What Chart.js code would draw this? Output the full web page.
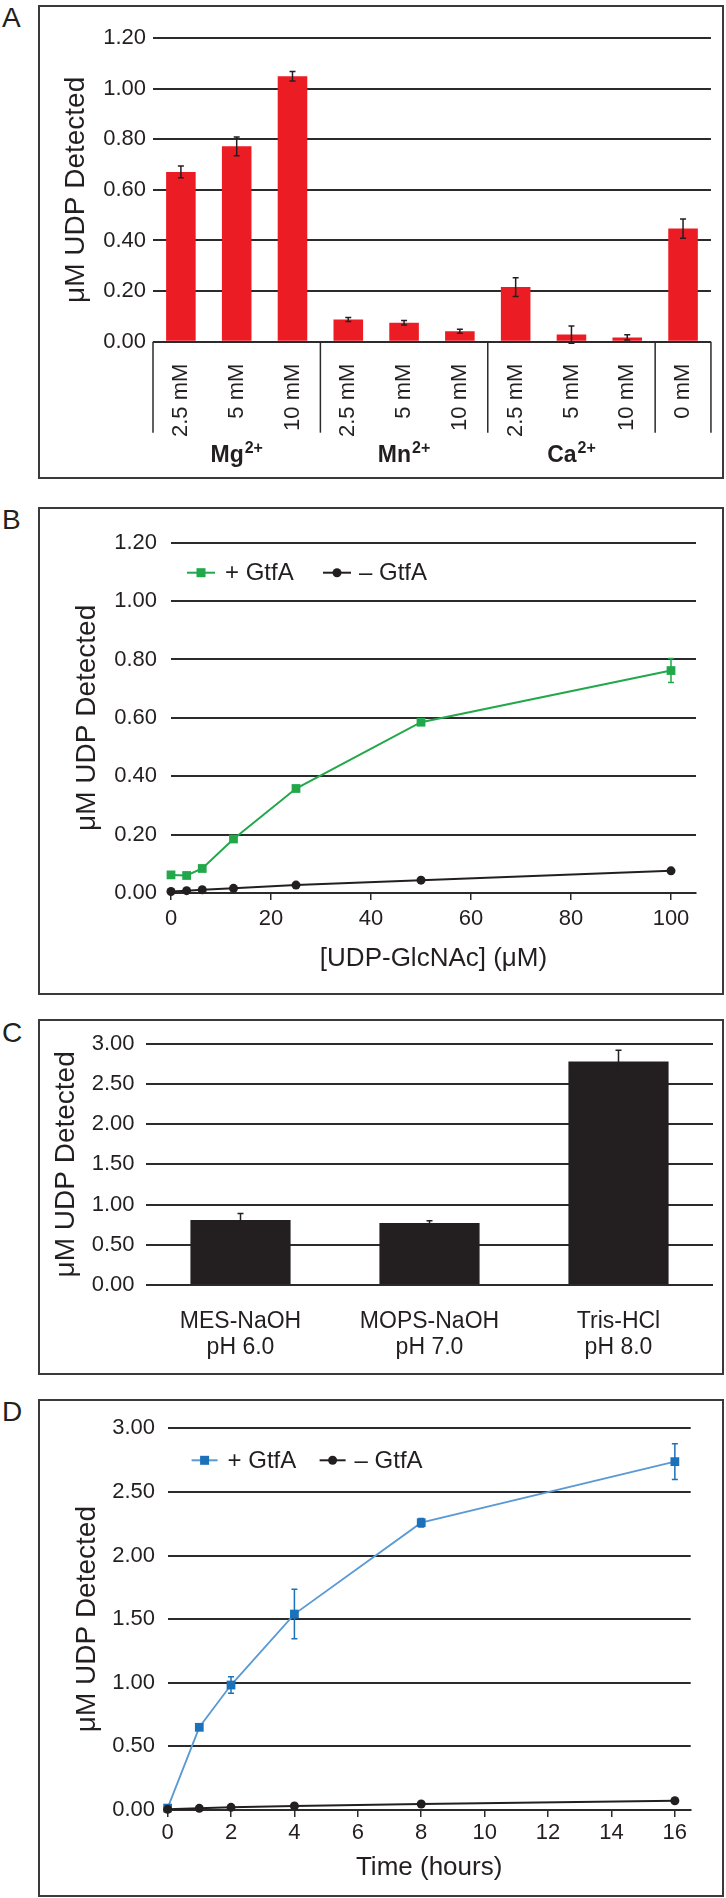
<!DOCTYPE html>
<html><head><meta charset="utf-8">
<script src="https://cdn.jsdelivr.net/npm/chart.js@4.4.1/dist/chart.umd.min.js"></script>
<style>
html,body{margin:0;padding:0;background:#fff;}
body{width:726px;height:1898px;position:relative;overflow:hidden;font-family:'Liberation Sans',Arial,Helvetica,sans-serif;}
.box{position:absolute;left:38px;width:686px;border:2px solid #3a3a3a;box-sizing:border-box;pointer-events:none;}
.letter{position:absolute;left:2px;font-size:28px;line-height:1;color:#231f20;}
canvas{position:absolute;left:38px;}
</style></head><body>
<div class="letter" style="top:4px">A</div>
<div class="letter" style="top:506px">B</div>
<div class="letter" style="top:1019px">C</div>
<div class="letter" style="top:1398px">D</div>
<canvas id="cA" width="686" height="474" style="top:5px"></canvas>
<canvas id="cB" width="686" height="488" style="top:507px"></canvas>
<canvas id="cC" width="686" height="356" style="top:1019px"></canvas>
<canvas id="cD" width="686" height="498" style="top:1399px"></canvas>
<div class="box" style="top:5px;height:474px"></div>
<div class="box" style="top:507px;height:488px"></div>
<div class="box" style="top:1019px;height:356px"></div>
<div class="box" style="top:1399px;height:498px"></div>
<script>
// ---------- DATA ----------
// Panel A
const aCategories = ['2.5 mM','5 mM','10 mM','2.5 mM','5 mM','10 mM','2.5 mM','5 mM','10 mM','0 mM'];
const aGroupNames = ['Mg','Mn','Ca'];
const aGroupCharge = '2+';
const aGroupSizes = [3,3,3,1];
const aValues = [0.671,0.772,1.049,0.088,0.075,0.041,0.216,0.028,0.017,0.447];
const aErrors = [0.023,0.037,0.019,0.008,0.009,0.008,0.037,0.034,0.010,0.038];
const aYTicks = [0,0.2,0.4,0.6,0.8,1.0,1.2];
// Panel B
const bConc = [0,3.125,6.25,12.5,25,50,100];
const bPlus = [0.062,0.060,0.084,0.185,0.358,0.585,0.762];
const bPlusErr = [0,0,0,0,0,0,0.041];
const bMinus = [0.005,0.008,0.011,0.016,0.027,0.044,0.076];
const bXTicks = [0,20,40,60,80,100];
const bYTicks = [0,0.2,0.4,0.6,0.8,1.0,1.2];
// Panel C
const cBuffers = [['MES-NaOH','pH 6.0'],['MOPS-NaOH','pH 7.0'],['Tris-HCl','pH 8.0']];
const cValues = [0.808,0.772,2.78];
const cErrors = [0.08,0.028,0.14];
const cYTicks = [0,0.5,1.0,1.5,2.0,2.5,3.0];
// Panel D
const dTime = [0,1,2,4,8,16];
const dPlus = [0.015,0.650,0.982,1.540,2.258,2.738];
const dPlusErr = [0,0,0.065,0.195,0.033,0.14];
const dMinus = [0.005,0.013,0.021,0.031,0.047,0.073];
const dXTicks = [0,2,4,6,8,10,12,14,16];
const dYTicks = [0,0.5,1.0,1.5,2.0,2.5,3.0];
const legendLabels = ['+ GtfA','\u2013 GtfA'];
const yTitle = '\u03bcM UDP Detected';

// ---------- STYLE ----------
const FONT = "'Liberation Sans', Arial, Helvetica, sans-serif";
const INK = '#231f20';
const GRID = '#2b2b2b';
const RED = '#ec1c24';
const GREEN = '#22a84a';
const BLUE_M = '#1b72ba';
const BLUE_L = '#5a9ad4';
Chart.defaults.font.family = FONT;
Chart.defaults.color = INK;
Chart.defaults.animation = false;
Chart.defaults.responsive = false;
Chart.defaults.devicePixelRatio = 1;
Chart.defaults.plugins.legend.display = false;
Chart.defaults.plugins.tooltip.enabled = false;

const errorBars = {
  id: 'errorBars',
  afterDatasetsDraw(chart) {
    const ctx = chart.ctx;
    chart.data.datasets.forEach((ds, di) => {
      if (!ds.errors) return;
      const meta = chart.getDatasetMeta(di);
      const yS = chart.scales[meta.yAxisID];
      ctx.save();
      ctx.strokeStyle = ds.errorColor || INK;
      ctx.lineWidth = ds.errorWidth || 1.5;
      meta.data.forEach((el, i) => {
        const e = ds.errors[i];
        if (!e) return;
        const v = ds.data[i];
        const val = (typeof v === 'object') ? v.y : v;
        const x = el.x;
        const y1 = yS.getPixelForValue(val + e), y2 = yS.getPixelForValue(val - e);
        const cap = ds.errorCap || 3;
        ctx.beginPath();
        ctx.moveTo(x, y1); ctx.lineTo(x, y2);
        ctx.moveTo(x - cap, y1); ctx.lineTo(x + cap, y1);
        ctx.moveTo(x - cap, y2); ctx.lineTo(x + cap, y2);
        ctx.stroke();
      });
      ctx.restore();
    });
  }
};

function makeLegend(items, dy) {
  return {
    id: 'panelLegend',
    afterDraw(chart) {
      const ctx = chart.ctx, ca = chart.chartArea;
      const y = ca.top + dy;
      ctx.save();
      items.forEach(it => {
        const x0 = ca.left + it.x0, x1 = ca.left + it.x1;
        ctx.strokeStyle = it.lineColor; ctx.lineWidth = 2;
        ctx.beginPath(); ctx.moveTo(x0, y); ctx.lineTo(x1, y); ctx.stroke();
        ctx.fillStyle = it.color;
        const cx = (x0 + x1) / 2;
        if (it.style === 'rect') { ctx.fillRect(cx - 4.5, y - 4.5, 9, 9); }
        else { ctx.beginPath(); ctx.arc(cx, y, 4.5, 0, Math.PI * 2); ctx.fill(); }
        ctx.fillStyle = INK;
        ctx.font = '24px ' + FONT;
        ctx.textBaseline = 'middle'; ctx.textAlign = 'left';
        ctx.fillText(it.label, ca.left + it.tx, y + 1);
      });
      ctx.restore();
    }
  };
}

function yAxis(ticks, max, width, tickPad, titlePad) {
  return {
    min: 0, max: max,
    afterBuildTicks: s => { s.ticks = ticks.map(v => ({value: v})); },
    afterFit: s => { s.width = width; },
    grid: {color: GRID, lineWidth: 2, drawTicks: false},
    border: {display: false},
    ticks: {padding: tickPad, font: {size: 22}, color: INK, callback: v => Number(v).toFixed(2)},
    title: {display: true, text: yTitle, font: {size: 28}, color: INK, padding: {top: titlePad, bottom: 0}}
  };
}

// ---------- PANEL A ----------
const groupPlugin = {
  id: 'groups',
  afterDraw(chart) {
    const ctx = chart.ctx, ca = chart.chartArea, x = chart.scales.x;
    const bounds = [ca.left];
    let idx = 0;
    aGroupSizes.forEach(n => {
      idx += n;
      if (idx < aCategories.length) bounds.push((x.getPixelForValue(idx - 1) + x.getPixelForValue(idx)) / 2);
      else bounds.push(ca.right);
    });
    ctx.save();
    ctx.strokeStyle = GRID; ctx.lineWidth = 1.5;
    bounds.forEach(b => {
      ctx.beginPath(); ctx.moveTo(b, ca.bottom); ctx.lineTo(b, ca.bottom + 91); ctx.stroke();
    });
    ctx.fillStyle = INK;
    aGroupNames.forEach((name, g) => {
      const cx = (bounds[g] + bounds[g + 1]) / 2;
      ctx.font = 'bold 23px ' + FONT;
      const w1 = ctx.measureText(name).width;
      ctx.font = 'bold 16px ' + FONT;
      const w2 = ctx.measureText(aGroupCharge).width;
      const sx = cx - (w1 + w2 + 1) / 2;
      const base = ca.bottom + 120;
      ctx.textBaseline = 'alphabetic'; ctx.textAlign = 'left';
      ctx.font = 'bold 23px ' + FONT;
      ctx.fillText(name, sx, base);
      ctx.font = 'bold 16px ' + FONT;
      ctx.fillText(aGroupCharge, sx + w1 + 1, base - 9);
    });
    ctx.restore();
  }
};

new Chart(document.getElementById('cA'), {
  type: 'bar',
  data: {labels: aCategories, datasets: [{
    data: aValues, backgroundColor: RED, borderWidth: 0,
    barPercentage: 0.53, categoryPercentage: 1,
    errors: aErrors, errorColor: INK, errorCap: 3
  }]},
  options: {
    layout: {padding: {top: 33, right: 11, left: 0, bottom: 0}},
    scales: {
      x: {
        afterFit: s => { s.height = 137.3; },
        grid: {display: false}, border: {display: false},
        ticks: {autoSkip: false, minRotation: 90, maxRotation: 90, padding: 14, font: {size: 22}, color: INK}
      },
      y: yAxis(aYTicks, 1.2, 115, 7, 21.9)
    }
  },
  plugins: [errorBars, groupPlugin]
});

// ---------- PANEL B ----------
function pts(xs, ys) { return xs.map((x, i) => ({x: x, y: ys[i]})); }

new Chart(document.getElementById('cB'), {
  type: 'line',
  data: {datasets: [
    {data: pts(bConc, bMinus), borderColor: INK, backgroundColor: INK, borderWidth: 2,
     pointStyle: 'circle', pointRadius: 4.5, pointBorderWidth: 0, clip: false, tension: 0},
    {data: pts(bConc, bPlus), borderColor: GREEN, backgroundColor: GREEN, borderWidth: 2,
     pointStyle: 'rect', pointRadius: 6.2, pointBorderWidth: 0, clip: false, tension: 0,
     errors: bPlusErr, errorColor: GREEN, errorCap: 3}
  ]},
  options: {
    layout: {padding: {top: 35.7, right: 28, left: 0, bottom: 0}},
    scales: {
      x: {
        type: 'linear', min: 0, max: 105,
        afterBuildTicks: s => { s.ticks = bXTicks.map(v => ({value: v})); },
        afterFit: s => { s.height = 102; },
        grid: {drawOnChartArea: false, drawTicks: true, tickLength: 7, color: GRID, lineWidth: 1.5},
        border: {display: true, color: GRID, width: 2},
        ticks: {padding: 6, font: {size: 22}, color: INK},
        title: {display: true, text: '[UDP-GlcNAc] (\u03bcM)', font: {size: 26}, color: INK, padding: {top: 0, bottom: 21}}
      },
      y: yAxis(bYTicks, 1.2, 133, 14, 32)
    }
  },
  plugins: [errorBars, makeLegend([
    {label: legendLabels[0], color: GREEN, lineColor: GREEN, style: 'rect', x0: 16, x1: 44, tx: 54},
    {label: legendLabels[1], color: INK, lineColor: INK, style: 'circle', x0: 152, x1: 180, tx: 188}
  ], 30)]
});

// ---------- PANEL C ----------
new Chart(document.getElementById('cC'), {
  type: 'bar',
  data: {labels: cBuffers, datasets: [{
    data: cValues, backgroundColor: INK, borderWidth: 0,
    barPercentage: 0.53, categoryPercentage: 1,
    errors: cErrors, errorColor: INK, errorCap: 3
  }]},
  options: {
    layout: {padding: {top: 16, right: 11, left: 0, bottom: 0}},
    scales: {
      x: {
        afterFit: s => { s.height = 90; },
        grid: {display: false}, border: {display: false},
        ticks: {padding: 16, font: {size: 23, lineHeight: 1.13}, color: INK}
      },
      y: yAxis(cYTicks, 3, 108, 11.5, 11)
    }
  },
  plugins: [errorBars]
});

// ---------- PANEL D ----------
new Chart(document.getElementById('cD'), {
  type: 'line',
  data: {datasets: [
    {data: pts(dTime, dMinus), borderColor: INK, backgroundColor: INK, borderWidth: 2,
     pointStyle: 'circle', pointRadius: 4.5, pointBorderWidth: 0, clip: false, tension: 0},
    {data: pts(dTime, dPlus), borderColor: BLUE_L, backgroundColor: BLUE_M, borderWidth: 1.8,
     pointStyle: 'rect', pointRadius: 6.2, pointBorderWidth: 0, clip: false, tension: 0,
     errors: dPlusErr, errorColor: BLUE_M, errorCap: 3}
  ]},
  options: {
    layout: {padding: {top: 29.3, right: 33.3, left: 0, bottom: 0}},
    scales: {
      x: {
        type: 'linear', min: 0, max: 16.5,
        afterBuildTicks: s => { s.ticks = dXTicks.map(v => ({value: v})); },
        afterFit: s => { s.height = 87; },
        grid: {drawOnChartArea: false, drawTicks: true, tickLength: 7, color: GRID, lineWidth: 1.5},
        border: {display: true, color: GRID, width: 2},
        ticks: {padding: 3, font: {size: 22}, color: INK},
        title: {display: true, text: 'Time (hours)', font: {size: 26}, color: INK, padding: {top: 0, bottom: 13.4}}
      },
      y: yAxis(dYTicks, 3, 129.6, 12.6, 32)
    }
  },
  plugins: [errorBars, makeLegend([
    {label: legendLabels[0], color: BLUE_M, lineColor: BLUE_L, style: 'rect', x0: 24, x1: 50, tx: 60},
    {label: legendLabels[1], color: INK, lineColor: INK, style: 'circle', x0: 152, x1: 178, tx: 187}
  ], 32)]
});
</script>
</body></html>
